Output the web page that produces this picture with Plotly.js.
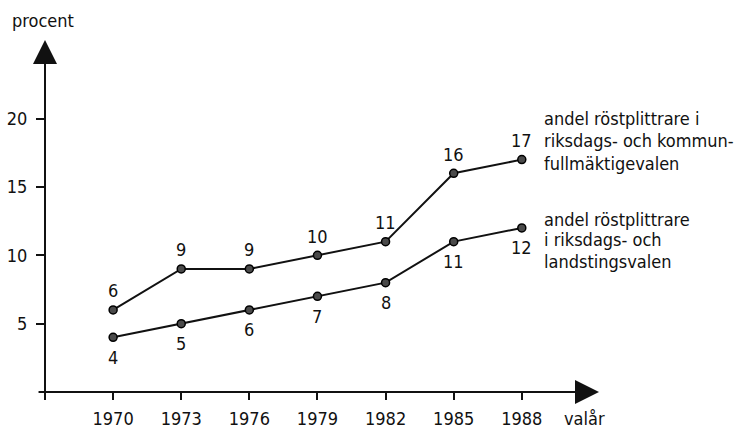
<!DOCTYPE html>
<html>
<head>
<meta charset="utf-8">
<script src="https://cdn.plot.ly/plotly-3.0.1.min.js"></script>
<style>html,body{margin:0;padding:0;background:#fff}#chart{width:741px;height:429px}</style>
</head>
<body>
<div id="chart"></div>
<script>
const years = [1970, 1973, 1976, 1979, 1982, 1985, 1988];
const kommun = [6, 9, 9, 10, 11, 16, 17];
const landsting = [4, 5, 6, 7, 8, 11, 12];
const yTicks = [5, 10, 15, 20];
const kommunLines = ['andel röstplittrare i', 'riksdags- och kommun-', 'fullmäktigevalen'];
const landstingLines = ['andel röstplittrare', 'i riksdags- och', 'landstingsvalen'];
const yTitle = 'procent';
const xTitle = 'valår';

const FONT = '"DejaVu Sans Condensed", "Liberation Sans Narrow", sans-serif';
const FS = 18;
const INK = '#111';
const xMin = 1967, xMax = 1991.4, yMax = 25.75;

const marker = {size: 8, color: '#4a4a4a', line: {color: '#000', width: 1.5}};
const traces = [
  {x: years, y: kommun, mode: 'lines+markers', line: {color: INK, width: 2},
   marker: marker, cliponaxis: false, hoverinfo: 'none'},
  {x: years, y: landsting, mode: 'lines+markers', line: {color: INK, width: 2},
   marker: marker, cliponaxis: false, hoverinfo: 'none'}
];

const txt = (o) => Object.assign({showarrow: false, font: {family: FONT, size: FS, color: INK}}, o);
const annotations = [];
// axis arrows
annotations.push({x: xMax, y: 0, ax: 1966.65, ay: 0, xref: 'x', yref: 'y', axref: 'x', ayref: 'y',
  text: '', showarrow: true, arrowhead: 2, arrowsize: 2.4, arrowwidth: 2, arrowcolor: INK, standoff: 0});
annotations.push({x: xMin, y: yMax, ax: xMin, ay: -0.7, xref: 'x', yref: 'y', axref: 'x', ayref: 'y',
  text: '', showarrow: true, arrowhead: 2, arrowsize: 2.4, arrowwidth: 2, arrowcolor: INK, standoff: 0});
// value labels
years.forEach((yr, i) => {
  annotations.push(txt({x: yr, y: kommun[i], xref: 'x', yref: 'y', text: String(kommun[i]),
    xanchor: 'center', yanchor: 'middle', yshift: 19}));
  annotations.push(txt({x: yr, y: landsting[i], xref: 'x', yref: 'y', text: String(landsting[i]),
    xanchor: 'center', yanchor: 'middle', yshift: -20}));
});
// series labels (one annotation per line)
const kShifts = [41, 19.6, -3.9];
const lShifts = [8.5, -12, -33.5];
kommunLines.forEach((t, i) => annotations.push(txt({x: 1988.9, y: kommun[kommun.length - 1], xref: 'x', yref: 'y',
  text: t, xanchor: 'left', yanchor: 'middle', yshift: kShifts[i]})));
landstingLines.forEach((t, i) => annotations.push(txt({x: 1988.9, y: landsting[landsting.length - 1], xref: 'x', yref: 'y',
  text: t, xanchor: 'left', yanchor: 'middle', yshift: lShifts[i]})));
// axis titles
annotations.push(txt({x: -35/554, y: 1, xref: 'paper', yref: 'paper', text: yTitle,
  xanchor: 'left', yanchor: 'bottom', yshift: 7}));
annotations.push(txt({x: 1989.75, y: 0, xref: 'x', yref: 'y', text: xTitle,
  xanchor: 'left', yanchor: 'top', yshift: -14}));

const layout = {
  width: 741, height: 429,
  margin: {l: 45, r: 142, t: 40, b: 37},
  paper_bgcolor: '#fff', plot_bgcolor: '#fff',
  showlegend: false,
  font: {family: FONT, size: FS, color: INK},
  xaxis: {range: [xMin, xMax], tickvals: years, ticktext: years.map(String),
    ticks: 'outside', ticklen: 7, tickwidth: 2, tickcolor: INK, ticklabelstandoff: 3,
    showgrid: false, zeroline: false, showline: false, fixedrange: true},
  yaxis: {range: [0, yMax], tickvals: yTicks, ticktext: yTicks.map(String),
    ticks: 'outside', ticklen: 8, tickwidth: 2, tickcolor: INK, ticklabelstandoff: 5,
    showgrid: false, zeroline: false, showline: false, fixedrange: true},
  annotations: annotations
};

Plotly.newPlot('chart', traces, layout, {staticPlot: true, displayModeBar: false});
</script>
</body>
</html>
